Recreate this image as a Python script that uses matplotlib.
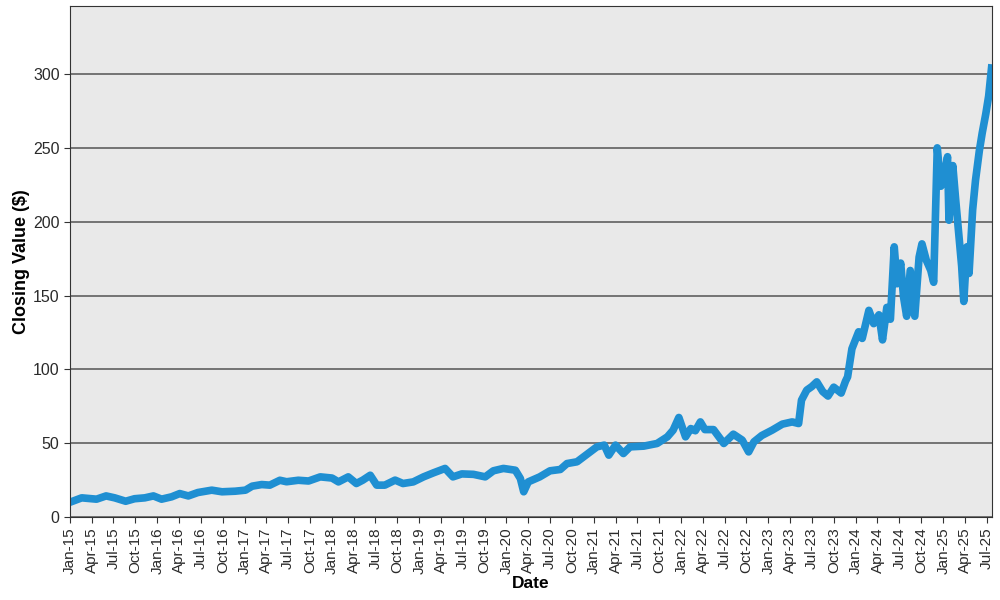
"""Closing value line chart, 2015-2025"""
import matplotlib.pyplot as plt
import matplotlib.dates as mdates
import pandas as pd

plt.rcParams['font.family'] = ['Liberation Sans', 'DejaVu Sans']

dates = [
    "2015-01-02", "2015-02-19", "2015-04-22", "2015-06-01", "2015-07-07", "2015-08-22",
    "2015-09-28", "2015-11-10", "2015-12-16", "2016-01-19", "2016-03-01", "2016-04-04",
    "2016-05-10", "2016-06-19", "2016-08-16", "2016-09-28", "2016-11-22", "2017-01-04",
    "2017-02-01", "2017-03-13", "2017-04-16", "2017-05-28", "2017-06-25", "2017-08-13",
    "2017-09-25", "2017-11-13", "2018-01-01", "2018-01-28", "2018-03-10", "2018-04-13",
    "2018-05-10", "2018-06-10", "2018-07-07", "2018-08-10", "2018-09-22", "2018-10-25",
    "2018-12-07", "2019-01-19", "2019-03-01", "2019-04-19", "2019-05-22", "2019-06-28",
    "2019-08-16", "2019-10-04", "2019-11-07", "2019-12-19", "2020-02-07", "2020-02-28",
    "2020-03-13", "2020-04-01", "2020-05-19", "2020-07-01", "2020-08-13", "2020-09-10",
    "2020-10-22", "2020-12-04", "2021-01-13", "2021-02-13", "2021-03-04", "2021-04-01",
    "2021-05-04", "2021-06-01", "2021-07-28", "2021-09-22", "2021-11-04", "2021-11-28",
    "2021-12-22", "2022-01-19", "2022-02-10", "2022-03-01", "2022-03-22", "2022-04-10",
    "2022-05-16", "2022-06-28", "2022-08-07", "2022-09-13", "2022-10-10", "2022-11-01",
    "2022-12-04", "2023-01-16", "2023-02-28", "2023-04-10", "2023-05-07", "2023-05-19",
    "2023-06-10", "2023-07-01", "2023-07-22", "2023-08-16", "2023-09-07", "2023-10-01",
    "2023-11-01", "2023-11-19", "2023-11-28", "2023-12-16", "2024-01-13", "2024-01-28",
    "2024-02-25", "2024-03-16", "2024-04-07", "2024-04-22", "2024-05-10", "2024-05-25",
    "2024-06-10", "2024-06-22", "2024-07-07", "2024-07-19", "2024-08-01", "2024-08-16",
    "2024-09-04", "2024-09-22", "2024-10-04", "2024-10-22", "2024-11-10", "2024-11-22",
    "2024-12-07", "2024-12-22", "2025-01-07", "2025-01-19", "2025-01-25", "2025-02-10",
    "2025-02-22", "2025-03-07", "2025-03-19", "2025-03-28", "2025-04-10", "2025-04-19",
    "2025-05-04", "2025-05-16", "2025-06-01", "2025-06-13", "2025-06-28", "2025-07-10",
    "2025-07-22",
]
closing = [
    10.2, 13.1, 12.2, 14.4, 13.1, 10.8,
    12.5, 13.1, 14.4, 12.2, 13.8, 16.0,
    14.4, 16.7, 18.3, 17.2, 17.6, 18.3,
    21.0, 22.1, 21.7, 25.0, 24.0, 25.0,
    24.5, 27.3, 26.5, 23.9, 27.3, 22.8,
    25.1, 28.4, 21.7, 21.7, 25.1, 22.8,
    23.9, 27.3, 30.0, 33.0, 27.3, 29.3,
    29.0, 27.3, 31.4, 33.0, 31.8, 26.2,
    17.2, 23.9, 27.3, 31.4, 32.3, 36.3,
    37.5, 42.7, 47.6, 48.8, 42.0, 48.8,
    43.1, 47.6, 48.1, 49.9, 54.4, 58.9,
    67.5, 54.4, 60.0, 58.5, 64.5, 59.3,
    59.3, 49.9, 56.2, 52.2, 44.2, 51.0,
    55.3, 58.9, 63.0, 64.5, 63.4, 79.2,
    86.0, 88.4, 91.6, 85.0, 82.0, 88.0,
    84.0, 92.0, 95.0, 114.0, 125.5, 121.0,
    140.0, 131.0, 137.0, 120.0, 142.0, 134.0,
    183.0, 158.0, 172.0, 149.0, 136.0, 167.0,
    136.0, 176.0, 185.0, 174.0, 167.0, 159.0,
    250.0, 224.0, 233.0, 244.0, 201.0, 238.0,
    215.0, 192.0, 170.0, 146.0, 183.0, 165.0,
    208.0, 228.0, 248.0, 260.0, 273.0, 285.0,
    304.0,
]

x = pd.to_datetime(dates)

fig = plt.figure(figsize=(10, 6), dpi=100)
ax = fig.add_axes([0.07, 0.138, 0.922, 0.852])
ax.set_facecolor("#e9e9e9")
ax.plot(x, closing, color="#1f8fd2", linewidth=5.5, solid_joinstyle="round")

ax.set_ylim(0, 346)
ax.set_yticks([0, 50, 100, 150, 200, 250, 300])
ax.yaxis.grid(True, color="#606060", linewidth=1.2)
ax.set_axisbelow(True)
ax.set_xlim(pd.Timestamp("2015-01-01"), pd.Timestamp("2025-07-24"))
ax.xaxis.set_major_locator(mdates.MonthLocator(bymonth=[1, 4, 7, 10]))
ax.xaxis.set_major_formatter(mdates.DateFormatter("%b-%y"))
plt.setp(ax.get_xticklabels(), rotation=90)
ax.tick_params(length=4, color="#333333", labelcolor="#2a2a2a")
ax.tick_params(axis="x", labelsize=11)
ax.tick_params(axis="y", labelsize=11.5)
for s in ax.spines.values():
    s.set_color("#333333")

ax.set_xlabel("Date", fontsize=12.5, fontweight="bold", labelpad=1)
ax.set_ylabel("Closing Value ($)", fontsize=13, fontweight="bold", labelpad=2)

fig.savefig("out.png")
